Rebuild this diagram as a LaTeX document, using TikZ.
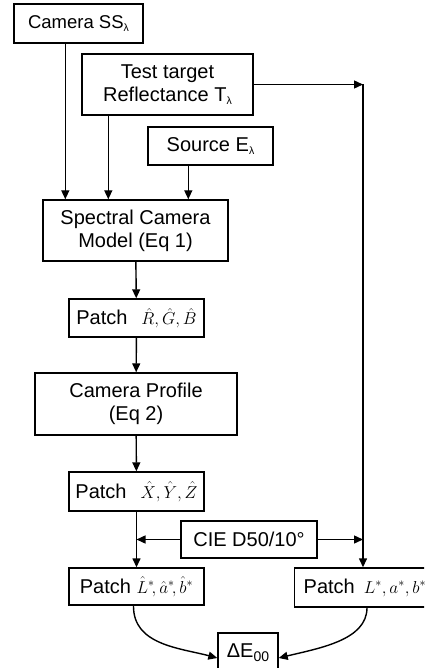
\documentclass[tikz,border=0pt]{standalone}
\usepackage{fontspec}
\setmainfont{Liberation Sans}
\usetikzlibrary{arrows.meta,calc}
\newcommand{\sublam}{\raisebox{-0.25ex}{\fontsize{10.5}{10}\selectfont λ}}
\newcommand{\mth}[1]{{\fontsize{17}{20}\selectfont$#1$}}
\begin{document}
\begin{tikzpicture}[x=1pt,y=-1pt,
  box/.style={draw,line width=1.4pt,inner sep=0pt,align=center,
    font=\fontsize{20}{23}\selectfont},
  arr/.style={line width=1.4pt,-{Triangle[length=9pt,width=8pt]}},
  ln/.style={line width=1.4pt}]
\useasboundingbox (0,0) rectangle (424,668);
\clip (0,0) rectangle (424,668);

% sources
\node[box,minimum width=129pt,minimum height=39pt,font=\fontsize{18.5}{21}\selectfont] (cam) at (78.5,23.5) {Camera SS\sublam};
\node[box,minimum width=171pt,minimum height=61pt] (test) at (167.5,84.5) {Test target\\Reflectance T\sublam};
\node[box,minimum width=125pt,minimum height=38pt] (src) at (210.5,146) {Source E\sublam};

% main chain
\node[box,minimum width=185pt,minimum height=61pt] (spec) at (135.5,230.5) {Spectral Camera\\Model (Eq 1)};
\node[box,minimum width=135pt,minimum height=38pt] (rgb) at (136.5,318) {Patch\hspace{0.7em}\mth{\hat R,\hat G,\hat B}};
\node[box,minimum width=202pt,minimum height=62pt] (prof) at (136,404) {Camera Profile\\(Eq 2)};
\node[box,minimum width=135pt,minimum height=39pt] (xyz) at (136.5,491.5) {Patch\hspace{0.7em}\mth{\hat X,\hat Y,\hat Z}};
\node[box,minimum width=136pt,minimum height=37pt] (cie) at (249,539.5) {CIE D50/10°};
\node[box,minimum width=135pt,minimum height=37pt] (lhat) at (136.5,586.5) {Patch \mth{\hat L^{*}\!,\hat a^{*}\!,\hat b^{*}}};
\node[box,anchor=west,inner xsep=9pt,minimum height=39pt] (lab) at (294,587.5) {Patch\hspace{0.45em}\mth{L^{*},a^{*},b^{*}}\hspace{2em}};
\node[box,minimum width=60pt,minimum height=40pt] (de) at (248,653) {ΔE\raisebox{-0.4ex}{\fontsize{14}{14}\selectfont 00}};

% inputs to the camera model
\path (cam.south west) ++(52,0) coordinate (c1);
\path (test.south west) ++(27,0) coordinate (c2);
\path (src.south west) ++(41,0) coordinate (c3);
\draw[arr] (c1) -- (c1 |- spec.north);
\draw[arr] (c2) -- (c2 |- spec.north);
\draw[arr] (c3) -- (c3 |- spec.north);

% reference branch
\coordinate (corner) at (363,84.5);
\draw[arr] (test.east) -- (corner);
\draw[arr] (corner) -- (corner |- lab.north);

% chain arrows
\draw[arr] (spec) -- (rgb);
\draw[arr] (rgb) -- (prof);
\draw[arr] (prof) -- (xyz);
\draw[arr] (xyz) -- (lhat);

% illuminant / observer
\draw[arr] (cie.west) -- (cie.west -| xyz.south);
\draw[arr] (cie.east) -- (cie.east -| corner);

% colour difference
\path (lhat.south) ++(-3,0) coordinate (l1);
\path (lab.south west) ++(73,0) coordinate (r1);
\draw[arr] (l1) .. controls (133,645) and (180,648) .. ($(de.west)+(0,5)$);
\draw[arr] (r1) .. controls (367,640) and (320,648) .. ($(de.east)+(0,5)$);
\end{tikzpicture}
\end{document}
